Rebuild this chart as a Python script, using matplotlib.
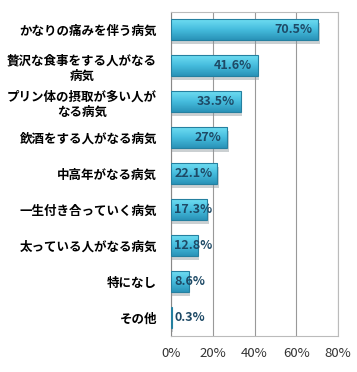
import numpy as np
import matplotlib.pyplot as plt
from matplotlib.colors import LinearSegmentedColormap
from matplotlib.ticker import PercentFormatter

plt.rcParams['font.family'] = ['Noto Sans CJK JP', 'DejaVu Sans']

# data
categories = [
    "かなりの痛みを伴う病気",
    "贅沢な食事をする人がなる\n病気",
    "プリン体の摂取が多い人が\nなる病気",
    "飲酒をする人がなる病気",
    "中高年がなる病気",
    "一生付き合っていく病気",
    "太っている人がなる病気",
    "特になし",
    "その他",
]
values = [70.5, 41.6, 33.5, 27, 22.1, 17.3, 12.8, 8.6, 0.3]
value_labels = ["70.5%", "41.6%", "33.5%", "27%", "22.1%", "17.3%", "12.8%", "8.6%", "0.3%"]
xticks = [0, 20, 40, 60, 80]

fig = plt.figure(figsize=(3.57, 3.72), dpi=100)
ax = fig.add_axes([0.479, 0.097, 0.468, 0.871])

bar_h = 0.58
cmap = LinearSegmentedColormap.from_list("bar", ["#6FDDF2", "#45BCDD", "#2A93B8"])
grad = np.linspace(0, 1, 50).reshape(-1, 1)

y = list(range(len(categories)))
# shadow
ax.barh([v + 0.1 for v in y], values, left=0.7, height=bar_h, color="#8d979c", alpha=0.45, zorder=2)
bars = ax.barh(y, values, height=bar_h, color="none", edgecolor="#2580A0", linewidth=0.8, zorder=4)
for yi, v in zip(y, values):
    ax.imshow(grad, cmap=cmap, aspect="auto", zorder=3,
              extent=(0, v, yi + bar_h / 2, yi - bar_h / 2))

for yi, v, lab in zip(y, values, value_labels):
    if v > 25:
        ax.text(v - 3, yi, lab, ha="right", va="center", fontsize=9,
                fontweight="bold", color="#1E4A66", zorder=5)
    else:
        ax.text(1.5, yi, lab, ha="left", va="center", fontsize=9,
                fontweight="bold", color="#1E4A66", zorder=5)

ax.set_xlim(0, 80)
ax.set_ylim(len(categories) - 0.5, -0.5)
ax.set_xticks(xticks)
ax.xaxis.set_major_formatter(PercentFormatter(decimals=0))
ax.set_yticks(y)
ax.set_yticklabels(categories, fontsize=9, fontweight="bold", multialignment="center")
ax.tick_params(axis="y", length=0, pad=10)
ax.tick_params(axis="x", length=0, pad=8, labelsize=9.5, labelcolor="#333333")
ax.grid(axis="x", color="#999999", linewidth=0.8, zorder=0)
ax.set_axisbelow(True)
for s in ["top", "bottom", "right"]:
    ax.spines[s].set_color("#bbbbbb")
ax.spines["left"].set_color("#888888")

fig.savefig("out.png", dpi=100)
